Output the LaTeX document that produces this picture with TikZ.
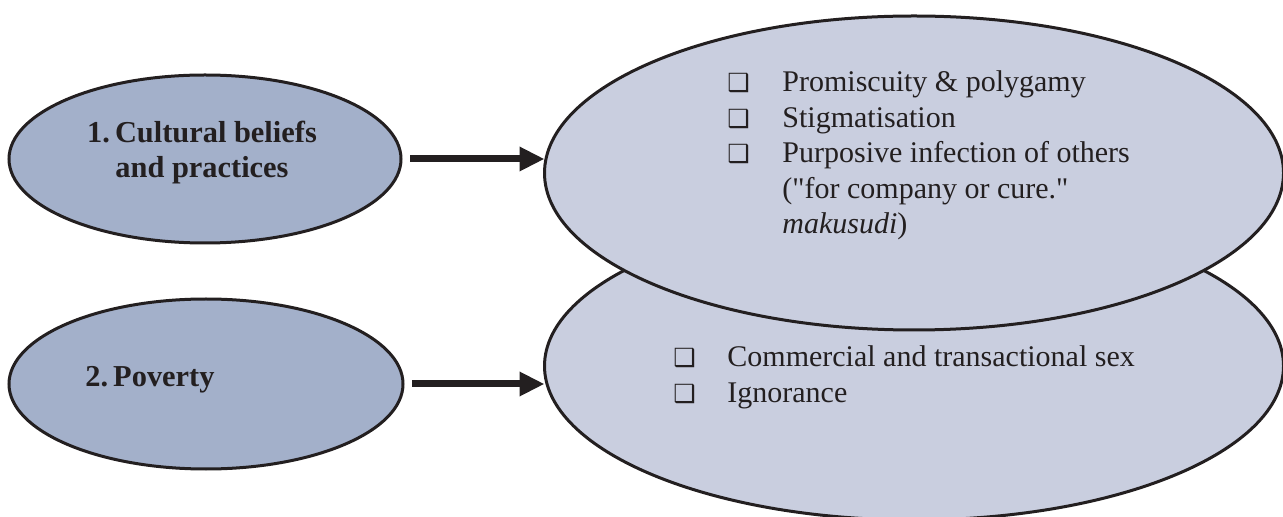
\documentclass[tikz,border=0pt]{standalone}
\usepackage{fontspec}
\setmainfont{Liberation Serif}
\newfontfamily\symfont{DejaVu Sans}
\usetikzlibrary{shapes.geometric,arrows.meta}

\definecolor{causefill}{RGB}{163,176,202}
\definecolor{effectfill}{RGB}{201,206,223}
\definecolor{inkline}{RGB}{35,31,32}

% shadowed square used as list bullet
\newcommand\sqbox{{\symfont\fontsize{12.5}{12.5}\selectfont ❑}}

\tikzset{
  cause/.style={ellipse, draw=inkline, line width=1.5pt, fill=causefill,
    inner sep=0pt, outer sep=0pt},
  effect/.style={ellipse, draw=inkline, line width=1.5pt, fill=effectfill,
    inner sep=0pt, outer sep=0pt},
  link/.style={draw=inkline, line width=3.5pt,
    -{Triangle[length=12.5pt,width=11.5pt]}},
  causetext/.style={font=\fontsize{15.2}{17.5}\selectfont\bfseries,
    text=inkline, inner sep=0pt},
  itemlist/.style={font=\fontsize{15}{17.75}\selectfont,
    text=inkline, inner sep=0pt, anchor=base west},
}

\begin{document}
\begin{tikzpicture}[x=0.5pt, y=-0.5pt]
  \useasboundingbox (0,0) rectangle (1283,517);

  % consequences (lower one first, the upper one overlaps it)
  \node[effect, minimum width=369.5pt, minimum height=154pt] (r2) at (914,366) {};
  \node[effect, minimum width=369.5pt, minimum height=157pt] (r1) at (914,173) {};

  % causes
  \node[cause, minimum width=196pt, minimum height=84pt] (c1) at (205,159) {};
  \node[cause, minimum width=197pt, minimum height=85pt] (c2) at (206,384) {};

  % links
  \draw[link] ([xshift=4.5pt]c1.east) -- (c1.east -| r1.west);
  \draw[link] ([xshift=4.5pt]c2.east) -- (c2.east -| r2.west);

  % cause labels
  \node[causetext, anchor=base] (t1) at (202,143)
    {\begin{tabular}[t]{@{}c@{}}1.\,Cultural beliefs\\ and practices\end{tabular}};
  \node[causetext, anchor=base west] (t2) at (85,387) {2.\,Poverty};

  % consequence lists
  \node[itemlist] (l1) at (727,92)
    {\begin{tabular}[t]{@{}p{27.5pt}@{}l@{}}
      \sqbox & Promiscuity \& polygamy\\
      \sqbox & Stigmatisation\\
      \sqbox & Purposive infection of others\\
             & (\textquotedbl for company or cure.\textquotedbl\\
             & \textit{makusudi})
    \end{tabular}};
  \node[itemlist] (l2) at (673,367)
    {\begin{tabular}[t]{@{}p{27pt}@{}l@{}}
      \sqbox & Commercial and transactional sex\\
      \sqbox & Ignorance
    \end{tabular}};
\end{tikzpicture}
\end{document}
